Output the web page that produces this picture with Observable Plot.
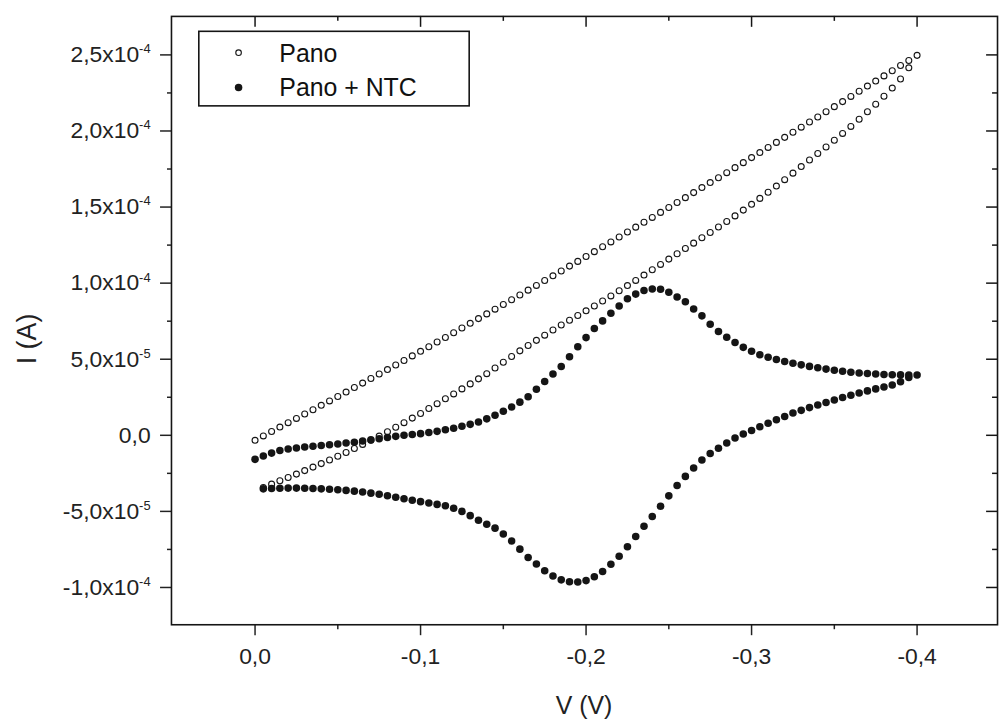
<!DOCTYPE html>
<html>
<head>
<meta charset="utf-8">
<script src="https://cdn.jsdelivr.net/npm/d3@7"></script>
<script src="https://cdn.jsdelivr.net/npm/@observablehq/plot@0.6"></script>
<style>
  html, body { margin: 0; padding: 0; background: #fff; overflow: hidden; }
  #chart { position: relative; width: 1000px; height: 723px; overflow: hidden; }
</style>
</head>
<body>
<div id="chart"></div>
<script>
// ---------- DATA ----------
// Potential (V), 5 mV steps from 0 to -0.4 V
const V = [0,-0.005,-0.01,-0.015,-0.02,-0.025,-0.03,-0.035,-0.04,-0.045,-0.05,-0.055,-0.06,-0.065,-0.07,-0.075,-0.08,-0.085,-0.09,-0.095,-0.1,-0.105,-0.11,-0.115,-0.12,-0.125,-0.13,-0.135,-0.14,-0.145,-0.15,-0.155,-0.16,-0.165,-0.17,-0.175,-0.18,-0.185,-0.19,-0.195,-0.2,-0.205,-0.21,-0.215,-0.22,-0.225,-0.23,-0.235,-0.24,-0.245,-0.25,-0.255,-0.26,-0.265,-0.27,-0.275,-0.28,-0.285,-0.29,-0.295,-0.3,-0.305,-0.31,-0.315,-0.32,-0.325,-0.33,-0.335,-0.34,-0.345,-0.35,-0.355,-0.36,-0.365,-0.37,-0.375,-0.38,-0.385,-0.39,-0.395,-0.4];

// Currents in units of 1e-5 A, one value per V entry (null = no point)
const panoUpper = [
  -0.33,-0.04,0.25,0.54,0.83,1.11,1.40,1.68,1.97,2.26,
  2.55,2.84,3.14,3.43,3.73,4.03,4.32,4.62,4.92,5.22,
  5.52,5.82,6.13,6.43,6.74,7.05,7.36,7.67,7.98,8.29,
  8.60,8.91,9.22,9.54,9.85,10.17,10.48,10.80,11.12,11.43,
  11.75,12.07,12.39,12.71,13.03,13.36,13.68,14.00,14.32,14.65,
  14.97,15.30,15.62,15.95,16.28,16.61,16.93,17.26,17.59,17.92,
  18.25,18.58,18.92,19.25,19.58,19.92,20.25,20.59,20.92,21.26,
  21.60,21.93,22.27,22.61,22.95,23.28,23.62,23.96,24.30,24.63,
  24.97
];
const panoLower = [
  null,
  -3.43,-3.21,-2.99,-2.77,-2.55,-2.32,-2.09,-1.86,-1.62,-1.38,
  -1.13,-0.87,-0.60,-0.33,-0.05,0.24,0.53,0.83,1.13,1.43,
  1.76,2.08,2.40,2.72,3.05,3.38,3.71,4.05,4.42,4.80,
  5.18,5.55,5.90,6.24,6.58,6.92,7.25,7.56,7.87,8.18,
  8.50,8.83,9.16,9.50,9.84,10.18,10.53,10.88,11.23,11.58,
  11.93,12.28,12.63,12.98,13.33,13.69,14.05,14.42,14.80,15.18,
  15.57,15.97,16.38,16.80,17.23,17.66,18.09,18.52,18.95,19.39,
  19.84,20.30,20.77,21.26,21.76,22.28,22.82,23.42,24.15,
  null
];
const ntcUpper = [
  -1.58,-1.36,-1.17,-1.00,-0.90,-0.83,-0.77,-0.72,-0.67,-0.62,
  -0.57,-0.51,-0.45,-0.38,-0.30,-0.22,-0.14,-0.07,0.00,0.05,
  0.11,0.18,0.26,0.36,0.47,0.59,0.72,0.88,1.08,1.32,
  1.58,1.86,2.18,2.54,3.03,3.54,4.03,4.52,5.16,5.82,
  6.42,7.02,7.52,8.02,8.50,8.97,9.28,9.52,9.62,9.60,
  9.40,9.09,8.78,8.30,7.85,7.30,6.82,6.45,6.10,5.78,
  5.52,5.30,5.13,4.98,4.85,4.74,4.63,4.53,4.44,4.35,
  4.28,4.21,4.15,4.10,4.06,4.03,4.00,3.98,3.97,3.96,
  3.96
];
const ntcLower = [
  null,
  -3.52,-3.50,-3.48,-3.47,-3.47,-3.48,-3.50,-3.52,-3.55,-3.58,
  -3.62,-3.67,-3.73,-3.80,-3.88,-3.97,-4.07,-4.17,-4.27,-4.36,
  -4.45,-4.54,-4.63,-4.80,-5.00,-5.28,-5.58,-5.84,-6.10,-6.48,
  -6.95,-7.48,-8.03,-8.46,-8.90,-9.25,-9.50,-9.62,-9.64,-9.55,
  -9.30,-8.95,-8.48,-7.95,-7.32,-6.65,-5.98,-5.33,-4.66,-3.98,
  -3.30,-2.70,-2.15,-1.62,-1.20,-0.85,-0.50,-0.18,0.08,0.32,
  0.56,0.79,1.02,1.24,1.46,1.64,1.82,1.99,2.16,2.32,
  2.48,2.63,2.78,2.92,3.05,3.17,3.30,3.52,3.80,
  null
];

const seriesNames = ["Pano", "Pano + NTC"];
const legendLabels = ["Pano", "Pano + NTC"];

// Axis ticks and labels
const xTicks = [0, -0.1, -0.2, -0.3, -0.4];
const xTickLabels = ["0,0", "-0,1", "-0,2", "-0,3", "-0,4"];
const xMinorTicks = [-0.05, -0.15, -0.25, -0.35];
const yTicks = [-1.0e-4, -5.0e-5, 0, 5.0e-5, 1.0e-4, 1.5e-4, 2.0e-4, 2.5e-4];
const yTickLabels = ["-1,0x10^-4", "-5,0x10^-5", "0,0", "5,0x10^-5", "1,0x10^-4", "1,5x10^-4", "2,0x10^-4", "2,5x10^-4"];
const yMinorTicks = [-7.5e-5, -2.5e-5, 2.5e-5, 7.5e-5, 1.25e-4, 1.75e-4, 2.25e-4];
const xTitle = "V (V)";
const yTitle = "I (A)";

// ---------- BUILD TABLES ----------
function rowsOf(arr, name) {
  const out = [];
  arr.forEach((v, i) => { if (v != null) out.push({ V: V[i], I: v * 1e-5, series: name }); });
  return out;
}
const panoRows = [...rowsOf(panoUpper, seriesNames[0]), ...rowsOf(panoLower, seriesNames[0])];
const ntcRows = [...rowsOf(ntcUpper, seriesNames[1]), ...rowsOf(ntcLower, seriesNames[1])];

// ---------- LAYOUT ----------
const W = 1006, H = 723;
const mL = 172, mR = 3, mT = 16, mB = 95;
const innerW = W - mL - mR;
const innerH = H - mT - mB;
const ink = "#151515";
const font = "'Liberation Sans', Arial, Helvetica, sans-serif";

const chart = Plot.plot({
  width: W, height: H,
  marginLeft: mL, marginRight: mR, marginTop: mT, marginBottom: mB,
  style: { fontFamily: font, fontSize: "23px", color: "#222", background: "white", overflow: "visible" },
  x: { domain: [0.0505, -0.4486] },
  y: { domain: [-1.245e-4, 2.753e-4] },
  marks: [
    // bottom axis (outward ticks)
    Plot.axisX({ ticks: xTicks, tickSize: 11, tickPadding: 12, strokeWidth: 1.5, fontSize: 23,
      tickFormat: d => xTickLabels[xTicks.indexOf(d)], label: null }),
    Plot.axisX({ ticks: xMinorTicks, tickSize: 5, strokeWidth: 1.5, tickFormat: () => "", label: null }),
    // left axis (outward ticks)
    Plot.axisY({ ticks: yTicks, tickSize: 11, tickPadding: 10, strokeWidth: 1.5, fontSize: 23,
      tickFormat: d => yTickLabels[yTicks.indexOf(d)], label: null }),
    Plot.axisY({ ticks: yMinorTicks, tickSize: 4, strokeWidth: 1.5, tickFormat: () => "", label: null }),
    // top mirror ticks (inward)
    Plot.tickX(xTicks, { x: d => d, insetBottom: innerH - 11, stroke: ink, strokeWidth: 1.5 }),
    Plot.tickX(xMinorTicks, { x: d => d, insetBottom: innerH - 5, stroke: ink, strokeWidth: 1.5 }),
    // right mirror ticks (inward)
    Plot.tickY(yTicks, { y: d => d, insetLeft: innerW - 11, stroke: ink, strokeWidth: 1.5 }),
    Plot.tickY(yMinorTicks, { y: d => d, insetLeft: innerW - 5, stroke: ink, strokeWidth: 1.5 }),
    // data
    Plot.dot(panoRows, { x: "V", y: "I", r: 3, stroke: ink, strokeWidth: 1.1, fill: "none" }),
    Plot.dot(ntcRows, { x: "V", y: "I", r: 3.8, fill: ink, stroke: "none" }),
    Plot.frame({ stroke: ink, strokeWidth: 1.6 })
  ]
});

document.getElementById("chart").appendChild(chart);
const svg = d3.select(chart);

// superscript exponents in y tick labels
svg.selectAll('g[aria-label="y-axis tick label"] text').each(function () {
  const t = this.textContent;
  if (t.includes("^")) {
    const parts = t.split("^");
    const sel = d3.select(this);
    sel.text(parts[0]);
    sel.append("tspan").attr("dy", "-9").attr("font-size", "13px").text(parts[1]);
  }
});

// axis titles
svg.append("text")
  .attr("x", mL + innerW / 2).attr("y", 718)
  .attr("text-anchor", "middle")
  .attr("font-family", font).attr("font-size", 25).attr("fill", "#222")
  .text(xTitle);
svg.append("text")
  .attr("transform", `translate(36,341) rotate(-90)`)
  .attr("text-anchor", "middle")
  .attr("font-family", font).attr("font-size", 27).attr("fill", "#222")
  .text(yTitle);

// legend (inside plot frame, top-left)
const lg = svg.append("g").attr("text-anchor", "start");
lg.append("rect").attr("x", 200).attr("y", 31.5).attr("width", 272).attr("height", 75)
  .attr("fill", "white").attr("stroke", ink).attr("stroke-width", 1.6);
const rowsY = [53, 88];
legendLabels.forEach((lab, i) => {
  const c = lg.append("circle").attr("cx", 240).attr("cy", rowsY[i]);
  if (i === 0) c.attr("r", 2.8).attr("fill", "none").attr("stroke", ink).attr("stroke-width", 1.1);
  else c.attr("r", 3.8).attr("fill", ink);
  lg.append("text").attr("x", 281).attr("y", rowsY[i]).attr("dy", "0.36em")
    .attr("text-anchor", "start")
    .attr("font-family", font).attr("font-size", 25).attr("fill", "#111").text(lab);
});
</script>
</body>
</html>
